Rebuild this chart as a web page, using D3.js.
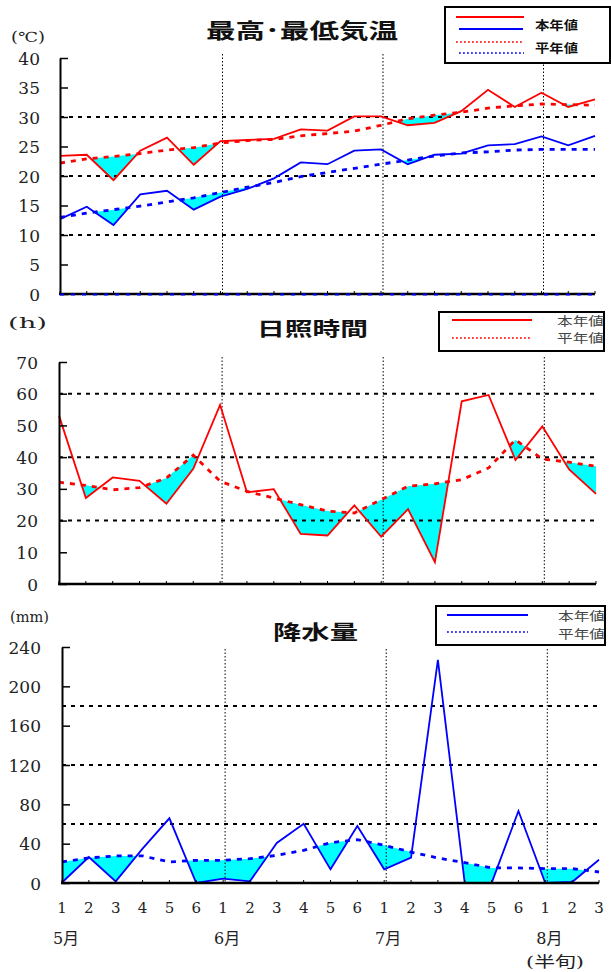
<!DOCTYPE html>
<html><head><meta charset="utf-8">
<script src="https://cdn.jsdelivr.net/npm/d3@7"></script>
<style>body{margin:0;background:#fff} svg{display:block}</style>
</head><body>
<svg id="c" width="611" height="972"></svg>
<script>
// ---- data ----
const pentads = ["1","2","3","4","5","6","1","2","3","4","5","6","1","2","3","4","5","6","1","2","3"];
const months = ["5月","6月","7月","8月"];
const monthStart = [0,6,12,18];

const maxTemp       = [23.4,23.6,19.3,24.3,26.5,21.9,25.9,26.1,26.3,27.9,27.7,30.1,30.1,28.6,29.0,31.0,34.6,31.7,34.1,31.7,33.0];
const maxTempNormal = [22.2,22.9,23.3,23.8,24.4,24.8,25.6,26.0,26.2,26.8,27.2,27.6,28.6,29.7,30.3,30.8,31.5,31.9,32.2,32.1,32.0];
const minTemp       = [12.7,14.8,11.7,16.9,17.5,14.3,16.5,17.8,19.6,22.3,22.0,24.3,24.5,22.0,23.6,23.8,25.2,25.4,26.7,25.2,26.8];
const minTempNormal = [13.0,13.7,14.3,14.9,15.6,16.3,17.2,18.1,18.9,19.9,20.6,21.3,22.0,22.7,23.4,23.9,24.1,24.4,24.5,24.5,24.5];
const sunshine       = [53.1,27.1,33.6,32.5,25.3,36.3,56.5,28.9,29.9,15.8,15.3,24.8,14.9,23.6,6.9,57.6,59.6,39.1,49.7,36.1,28.4];
const sunshineNormal = [32.1,31.1,29.7,30.4,33.4,40.6,32.4,29.2,27.1,25.0,23.0,22.4,26.6,30.8,31.6,32.9,36.6,45.5,39.4,38.4,37.1];
const precip       = [0.5,26.4,1.7,34.9,65.8,0,4.4,1.7,40.7,60.3,13.9,58.0,13.9,25.8,227,0,0,73.2,0,1.0,23.7];
const precipNormal = [21.4,25.5,27.5,27.5,21.4,23.1,23.1,24.7,28.1,33.2,41.0,44.1,38.3,31.5,25.4,20.7,15.3,15.3,14.6,14.6,11.2];

const tempTicks = [0,5,10,15,20,25,30,35,40];
const tempGrid = [10,20,30];
const sunTicks = [0,10,20,30,40,50,60,70];
const sunGrid = [20,40,60];
const precipTicks = [0,40,80,120,160,200,240];
const precipGrid = [60,120,180];
const legendLabels = ["本年値","平年値"];

// ---- styles ----
const RED = "#ff0000", BLUE = "#0000ff", CYAN = "#00ffff";
const SERIF = "'DejaVu Serif','Noto Sans CJK JP',serif";
const GOTHIC = "'Noto Sans CJK JP','Noto Sans',sans-serif";

const svg = d3.select("#c");

function refine(act, nor) {
  const pts = [];
  for (let i = 0; i < act.length; i++) {
    pts.push({i, a: act[i], n: nor[i]});
    if (i < act.length - 1) {
      const d0 = act[i] - nor[i], d1 = act[i+1] - nor[i+1];
      if (d0 * d1 < 0) {
        const t = d0 / (d0 - d1);
        pts.push({i: i + t, a: act[i] + t*(act[i+1]-act[i]), n: nor[i] + t*(nor[i+1]-nor[i])});
      }
    }
  }
  return pts;
}

function panel(cfg) {
  const g = svg.append("g");
  const x = d3.scaleLinear().domain([0, pentads.length - 1]).range(cfg.xr);
  const y = d3.scaleLinear().domain([0, d3.max(cfg.ticks)]).range(cfg.yr);
  const y0 = y(0);

  // fills
  cfg.series.forEach(s => {
    const pts = refine(s.act, s.nor);
    g.append("path").datum(pts)
      .attr("fill", CYAN)
      .attr("d", d3.area().x(d => x(d.i)).y0(d => y(d.n)).y1(d => y(Math.min(d.a, d.n))));
  });

  // grid
  g.selectAll(null).data(cfg.grid).enter().append("line")
    .attr("x1", cfg.xr[0]).attr("x2", cfg.xr[1])
    .attr("y1", d => y(d)).attr("y2", d => y(d))
    .attr("stroke", "#000").attr("stroke-width", 2).attr("stroke-dasharray", "4,5");

  // month lines
  g.selectAll(null).data(monthStart.slice(1)).enter().append("line")
    .attr("x1", d => x(d) + 2).attr("x2", d => x(d) + 2)
    .attr("y1", cfg.vTop).attr("y2", y0)
    .attr("stroke", "#000").attr("stroke-width", 1).attr("stroke-dasharray", "1.5,2");

  // lines
  cfg.series.forEach(s => {
    g.append("path").datum(s.nor)
      .attr("fill", "none").attr("stroke", s.color).attr("stroke-width", 2.8)
      .attr("stroke-dasharray", "5,6")
      .attr("d", d3.line().x((d, i) => x(i)).y(d => y(d)));
    g.append("path").datum(s.act)
      .attr("fill", "none").attr("stroke", s.color).attr("stroke-width", 1.8)
      .attr("stroke-linejoin", "miter")
      .attr("d", d3.line().x((d, i) => x(i)).y(d => y(d)));
  });

  // axes
  const ax = g.append("g").attr("transform", `translate(${cfg.xr[0]},0)`)
    .call(d3.axisLeft(y).tickValues(cfg.ticks).tickSizeInner(-8).tickSizeOuter(0).tickPadding(0).tickFormat(d3.format("d")));
  ax.select(".domain").attr("stroke", "#000").attr("stroke-width", 2);
  ax.selectAll(".tick line").attr("stroke", "#000").attr("stroke-width", 1.5);
  ax.selectAll(".tick text").attr("x", cfg.labelX - cfg.xr[0]).attr("font-family", SERIF)
    .attr("font-size", 17).attr("fill", "#222").attr("dy", "0.36em");
  ax.attr("font-family", SERIF);

  g.append("line").attr("x1", cfg.xr[0] - 1).attr("x2", cfg.xr[1]).attr("y1", y0).attr("y2", y0)
    .attr("stroke", "#000").attr("stroke-width", 2.5);
  if (cfg.zeroDash) {
    g.append("line").attr("x1", cfg.xr[0]).attr("x2", cfg.xr[1]).attr("y1", y0 + 0.5).attr("y2", y0 + 0.5)
      .attr("stroke", cfg.zeroDash).attr("stroke-width", 2).attr("stroke-dasharray", "4,7");
  }
  // small bottom ticks
  g.selectAll(null).data(pentads).enter().append("line")
    .attr("x1", (d, i) => x(i)).attr("x2", (d, i) => x(i))
    .attr("y1", y0).attr("y2", y0 - 3).attr("stroke", "#000").attr("stroke-width", 1);

  // title
  g.append("text").attr("x", cfg.title.x).attr("y", cfg.title.y)
    .attr("font-family", GOTHIC).attr("font-weight", "bold").attr("font-size", cfg.title.size)
    .attr("textLength", cfg.title.w).attr("lengthAdjust", "spacingAndGlyphs").attr("fill", "#111")
    .text(cfg.title.text);
  // unit
  g.append("text").attr("x", cfg.unit.x).attr("y", cfg.unit.y)
    .attr("font-family", SERIF).attr("font-size", 14).attr("fill", "#222")
    .attr("textLength", cfg.unit.w).attr("lengthAdjust", "spacingAndGlyphs")
    .text(cfg.unit.text);

  // legend
  const L = cfg.legend;
  const lg = svg.append("g");
  lg.append("rect").attr("x", L.x).attr("y", L.y).attr("width", L.w).attr("height", L.h)
    .attr("fill", "#fff").attr("stroke", "#000").attr("stroke-width", 2);
  const clipId = "clip" + cfg.id;
  lg.append("clipPath").attr("id", clipId).append("rect")
    .attr("x", L.x).attr("y", L.y).attr("width", L.w).attr("height", L.h);
  L.rows.forEach(r => {
    lg.append("line").attr("x1", r.x1).attr("x2", r.x2).attr("y1", r.y).attr("y2", r.y)
      .attr("stroke", r.color).attr("stroke-width", r.dash ? 1.6 : 2.2)
      .attr("stroke-dasharray", r.dash ? "1.8,2.2" : null);
  });
  L.texts.forEach((t, k) => {
    lg.append("text").attr("x", L.tx).attr("y", t)
      .attr("clip-path", `url(#${clipId})`)
      .attr("font-family", GOTHIC).attr("font-size", L.fs).attr("font-weight", L.bold ? "bold" : "normal")
      .attr("fill", L.tcolor).attr("textLength", L.tw).attr("lengthAdjust", "spacingAndGlyphs")
      .text(legendLabels[k]);
  });
  return x;
}

// ---- temperature ----
panel({
  id: 1, xr: [60, 595], yr: [294, 58], ticks: tempTicks, grid: tempGrid, vTop: 54, labelX: 40,
  zeroDash: BLUE,
  series: [
    {act: maxTemp, nor: maxTempNormal, color: RED},
    {act: minTemp, nor: minTempNormal, color: BLUE}
  ],
  title: {text: "最高･最低気温", x: 206, y: 38, size: 21, w: 192},
  unit: {text: "(℃)", x: 11, y: 42, w: 34},
  legend: {x: 445, y: 7, w: 165, h: 56, tx: 535, tw: 43, fs: 12, bold: true, tcolor: "#111",
    texts: [30, 53],
    rows: [
      {x1: 456, x2: 524, y: 17, color: RED},
      {x1: 459, x2: 523, y: 29, color: BLUE},
      {x1: 456, x2: 524, y: 42, color: RED, dash: true},
      {x1: 459, x2: 524, y: 53, color: BLUE, dash: true}
    ]}
});

// ---- sunshine ----
panel({
  id: 2, xr: [59, 596], yr: [584, 362], ticks: sunTicks, grid: sunGrid, vTop: 357, labelX: 38,
  series: [{act: sunshine, nor: sunshineNormal, color: RED}],
  title: {text: "日照時間", x: 257, y: 336, size: 19, w: 111},
  unit: {text: "(h)", x: 8, y: 328, w: 39},
  legend: {x: 439, y: 312, w: 165, h: 39, tx: 557, tw: 47, fs: 12, bold: false, tcolor: "#444",
    texts: [326, 343],
    rows: [
      {x1: 452, x2: 532, y: 320, color: RED},
      {x1: 452, x2: 532, y: 338, color: RED, dash: true}
    ]}
});

// ---- precipitation ----
const xP = panel({
  id: 3, xr: [62, 599], yr: [883, 647], ticks: precipTicks, grid: precipGrid, vTop: 649, labelX: 41,
  series: [{act: precip, nor: precipNormal, color: BLUE}],
  title: {text: "降水量", x: 273, y: 640, size: 20, w: 85},
  unit: {text: "(mm)", x: 10, y: 622, w: 39},
  legend: {x: 436, y: 606, w: 169, h: 39, tx: 558, tw: 47, fs: 12, bold: false, tcolor: "#444",
    texts: [621, 639],
    rows: [
      {x1: 447, x2: 528, y: 615, color: BLUE},
      {x1: 447, x2: 528, y: 632, color: BLUE, dash: true}
    ]}
});

// x labels
svg.append("g").selectAll("text").data(pentads).enter().append("text")
  .attr("x", (d, i) => xP(i)).attr("y", 913)
  .attr("text-anchor", "middle").attr("font-family", SERIF).attr("font-size", 15).attr("fill", "#222")
  .text(d => d);
svg.append("g").selectAll("text").data(months).enter().append("text")
  .attr("x", (d, i) => xP(monthStart[i]) + 4).attr("y", 944)
  .attr("text-anchor", "middle").attr("font-family", SERIF).attr("font-size", 16).attr("fill", "#222")
  .text(d => d);
svg.append("text").attr("x", 555).attr("y", 967).attr("text-anchor", "middle")
  .attr("font-family", SERIF).attr("font-size", 15).attr("fill", "#222")
  .attr("textLength", 58).attr("lengthAdjust", "spacingAndGlyphs")
  .text("(半旬)");
</script>
</body></html>
